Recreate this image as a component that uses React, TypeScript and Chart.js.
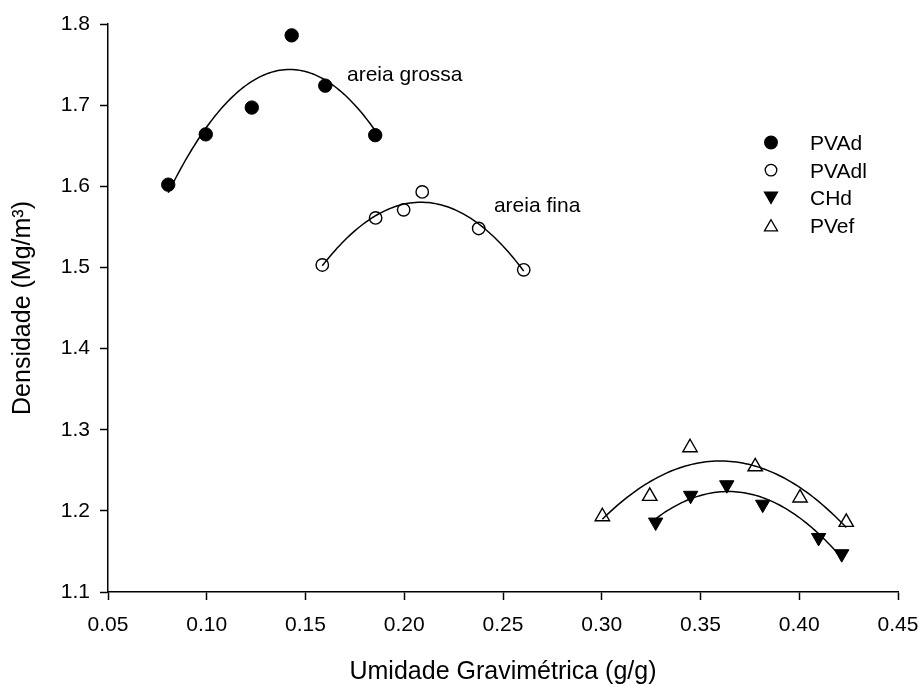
import React, { useEffect, useRef } from 'react';
import { Chart, registerables } from 'chart.js';

Chart.register(...registerables);

// ---- data ----
const seriesNames = ['PVAd', 'PVAdl', 'CHd', 'PVef'];
const pvadX = [0.0805, 0.0995, 0.1228, 0.143, 0.16, 0.1853];
const pvadY = [1.602, 1.664, 1.697, 1.786, 1.724, 1.663];
const pvadlX = [0.1585, 0.1855, 0.1997, 0.2091, 0.2377, 0.2605];
const pvadlY = [1.503, 1.561, 1.571, 1.593, 1.548, 1.497];
const chdX = [0.3273, 0.345, 0.3633, 0.3815, 0.4098, 0.4215];
const chdY = [1.186, 1.219, 1.232, 1.208, 1.167, 1.147];
const pvefX = [0.3003, 0.3243, 0.3447, 0.3777, 0.4004, 0.4238];
const pvefY = [1.193, 1.218, 1.278, 1.2545, 1.216, 1.186];

const xTickValues = [0.05, 0.1, 0.15, 0.2, 0.25, 0.3, 0.35, 0.4, 0.45];
const yTickValues = [1.1, 1.2, 1.3, 1.4, 1.5, 1.6, 1.7, 1.8];

const noteTexts = ['areia grossa', 'areia fina'];
const noteX = [0.171, 0.2454];
const noteY = [1.7295, 1.5686];

const xTitle = 'Umidade Gravimétrica (g/g)';
const yTitle = 'Densidade (Mg/m³)';

const FONT = "'Liberation Sans', Arial, Helvetica, sans-serif";

// least-squares quadratic regression of a series (the fitted curve of the original)
function quadFit(xs: number[], ys: number[]) {
  const n = xs.length;
  const m = xs.reduce((s, v) => s + v, 0) / n;
  let s1 = 0, s2 = 0, s3 = 0, s4 = 0, t0 = 0, t1 = 0, t2 = 0;
  for (let i = 0; i < n; i++) {
    const u = xs[i] - m;
    s1 += u; s2 += u * u; s3 += u * u * u; s4 += u * u * u * u;
    t0 += ys[i]; t1 += u * ys[i]; t2 += u * u * ys[i];
  }
  const A = [
    [n, s1, s2, t0],
    [s1, s2, s3, t1],
    [s2, s3, s4, t2],
  ];
  for (let c = 0; c < 3; c++) {
    let p = c;
    for (let r = c + 1; r < 3; r++) if (Math.abs(A[r][c]) > Math.abs(A[p][c])) p = r;
    [A[c], A[p]] = [A[p], A[c]];
    for (let r = 0; r < 3; r++) {
      if (r === c) continue;
      const f = A[r][c] / A[c][c];
      for (let k = c; k < 4; k++) A[r][k] -= f * A[c][k];
    }
  }
  const a = A[0][3] / A[0][0];
  const b = A[1][3] / A[1][1];
  const cc = A[2][3] / A[2][2];
  const lo = Math.min(...xs);
  const hi = Math.max(...xs);
  const pts: { x: number; y: number }[] = [];
  const N = 80;
  for (let i = 0; i <= N; i++) {
    const x = lo + ((hi - lo) * i) / N;
    const u = x - m;
    pts.push({ x, y: a + b * u + cc * u * u });
  }
  return pts;
}

const toPts = (xs: number[], ys: number[]) => xs.map((x, i) => ({ x, y: ys[i] }));

type MarkerKind = 'filledCircle' | 'openCircle' | 'filledDown' | 'openUp';
const markerKinds: MarkerKind[] = ['filledCircle', 'openCircle', 'filledDown', 'openUp'];

function drawMarker(ctx: CanvasRenderingContext2D, kind: MarkerKind, x: number, y: number) {
  ctx.save();
  ctx.lineWidth = 1.3;
  ctx.strokeStyle = '#000';
  ctx.beginPath();
  if (kind === 'filledCircle' || kind === 'openCircle') {
    ctx.arc(x, y, kind === 'filledCircle' ? 6.3 : 5.8, 0, Math.PI * 2);
  } else {
    const r = 7.5;
    const dir = kind === 'filledDown' ? 1 : -1;
    const h = 1.5 * r;
    const w = r * Math.sqrt(3);
    ctx.moveTo(x, y + (dir * h) / 2);
    ctx.lineTo(x - w / 2, y - (dir * h) / 2);
    ctx.lineTo(x + w / 2, y - (dir * h) / 2);
    ctx.closePath();
  }
  if (kind === 'filledCircle' || kind === 'filledDown') {
    ctx.fillStyle = '#000';
  } else {
    ctx.fillStyle = '#fff';
  }
  ctx.fill();
  ctx.stroke();
  ctx.restore();
}

const overlayPlugin = {
  id: 'overlay',
  afterDatasetsDraw(chart: any) {
    const ctx: CanvasRenderingContext2D = chart.ctx;
    const xs = chart.scales.x;
    const ys = chart.scales.y;
    ctx.save();
    ctx.fillStyle = '#000';
    ctx.font = `21px ${FONT}`;
    ctx.textAlign = 'left';
    ctx.textBaseline = 'alphabetic';
    noteTexts.forEach((t, i) => {
      ctx.fillText(t, xs.getPixelForValue(noteX[i]), ys.getPixelForValue(noteY[i]));
    });
    // legend
    const mx = 771;
    const tx = 810;
    const y0 = 142.5;
    const dy = 27.6;
    seriesNames.forEach((name, i) => {
      const y = y0 + i * dy;
      drawMarker(ctx, markerKinds[i], mx, y);
      ctx.fillStyle = '#000';
      ctx.fillText(name, tx, y + 7.5);
    });
    ctx.restore();
  },
};

export default function App() {
  const ref = useRef<HTMLCanvasElement | null>(null);

  useEffect(() => {
    document.body.style.margin = '0';
    const canvas = ref.current;
    if (!canvas) return;
    Chart.defaults.font.family = FONT;
    Chart.defaults.color = '#000';

    const fitStyle = {
      showLine: true,
      pointRadius: 0,
      borderColor: '#000',
      borderWidth: 1.5,
      backgroundColor: '#000',
      tension: 0,
      fill: false,
    };

    const chart = new Chart(canvas, {
      type: 'scatter',
      data: {
        datasets: [
          { label: 'fit ' + seriesNames[0], data: quadFit(pvadX, pvadY), ...fitStyle },
          { label: 'fit ' + seriesNames[1], data: quadFit(pvadlX, pvadlY), ...fitStyle },
          { label: 'fit ' + seriesNames[2], data: quadFit(chdX, chdY), ...fitStyle },
          { label: 'fit ' + seriesNames[3], data: quadFit(pvefX, pvefY), ...fitStyle },
          {
            label: seriesNames[0],
            data: toPts(pvadX, pvadY),
            pointStyle: 'circle',
            pointRadius: 6.7,
            backgroundColor: '#000',
            borderColor: '#000',
            borderWidth: 1,
          },
          {
            label: seriesNames[1],
            data: toPts(pvadlX, pvadlY),
            pointStyle: 'circle',
            pointRadius: 6.2,
            backgroundColor: 'rgba(0,0,0,0)',
            borderColor: '#000',
            borderWidth: 1.4,
          },
          {
            label: seriesNames[2],
            data: toPts(chdX, chdY),
            pointStyle: 'triangle',
            rotation: 180,
            pointRadius: 8.3,
            backgroundColor: '#000',
            borderColor: '#000',
            borderWidth: 1,
          },
          {
            label: seriesNames[3],
            data: toPts(pvefX, pvefY),
            pointStyle: 'triangle',
            pointRadius: 8.3,
            backgroundColor: 'rgba(0,0,0,0)',
            borderColor: '#000',
            borderWidth: 1.4,
          },
        ],
      },
      options: {
        responsive: false,
        animation: false,
        devicePixelRatio: 1,
        layout: { padding: { top: 24, right: 23, left: 0, bottom: 0 } },
        plugins: {
          legend: { display: false },
          tooltip: { enabled: false },
          title: { display: false },
        },
        scales: {
          x: {
            type: 'linear',
            min: 0.05,
            max: 0.45,
            afterFit: (s: any) => {
              s.height = 94;
              s.paddingLeft = 0;
              s.paddingRight = 0;
            },
            afterBuildTicks: (s: any) => {
              s.ticks = xTickValues.map((v) => ({ value: v }));
            },
            ticks: {
              font: { size: 21 },
              color: '#000',
              padding: 13,
              maxRotation: 0,
              autoSkip: false,
              callback: (v: any) => Number(v).toFixed(2),
            },
            grid: {
              drawOnChartArea: false,
              drawTicks: true,
              tickLength: 8,
              tickWidth: 1.5,
              tickColor: '#000',
            },
            border: { display: true, color: '#000', width: 1.5 },
            title: {
              display: true,
              text: xTitle,
              color: '#000',
              font: { size: 25 },
              padding: { top: 0, bottom: -1 },
            },
          },
          y: {
            type: 'linear',
            min: 1.1,
            max: 1.8,
            afterFit: (s: any) => {
              s.width = 108;
              s.paddingTop = 0;
              s.paddingBottom = 0;
            },
            afterBuildTicks: (s: any) => {
              s.ticks = yTickValues.map((v) => ({ value: v }));
            },
            ticks: {
              font: { size: 21 },
              color: '#000',
              padding: 10,
              autoSkip: false,
              callback: (v: any) => Number(v).toFixed(1),
            },
            grid: {
              drawOnChartArea: false,
              drawTicks: true,
              tickLength: 8,
              tickWidth: 1.5,
              tickColor: '#000',
            },
            border: { display: true, color: '#000', width: 1.5 },
            title: {
              display: true,
              text: yTitle,
              color: '#000',
              font: { size: 25 },
              padding: { top: 8, bottom: 0 },
            },
          },
        },
      },
      plugins: [overlayPlugin],
    });

    return () => chart.destroy();
  }, []);

  return (
    <div style={{ position: 'fixed', left: 0, top: 0, width: 921, height: 686, background: '#fff' }}>
      <canvas ref={ref} width={921} height={686} style={{ display: 'block', width: 921, height: 686 }} />
    </div>
  );
}
